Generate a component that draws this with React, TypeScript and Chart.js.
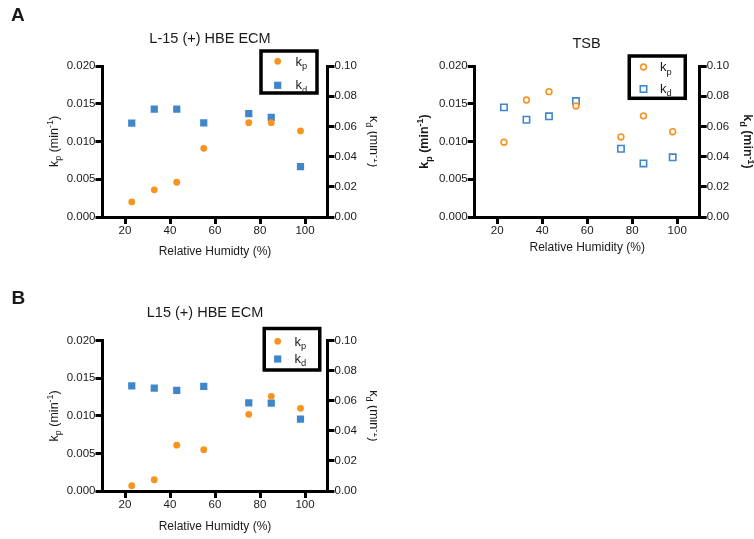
import React, { useEffect, useRef } from "react";
import { Chart, registerables } from "chart.js";

Chart.register(...registerables);

// ---------- data ----------
const humidity = [23, 33, 43, 55, 75, 85, 98];

const ecmKp = [0.002, 0.0036, 0.0046, 0.0091, 0.0125, 0.0125, 0.0114];
const ecmKd = [0.0621, 0.0715, 0.0715, 0.0623, 0.0684, 0.066, 0.0333];

const tsbKp = [0.0099, 0.0155, 0.0166, 0.0147, 0.0106, 0.0134, 0.0113];
const tsbKd = [0.0726, 0.0644, 0.0667, 0.0768, 0.0452, 0.0355, 0.0395];

const l15Kp = [0.0007, 0.0015, 0.0061, 0.0055, 0.0102, 0.0126, 0.011];
const l15Kd = [0.07, 0.0684, 0.0669, 0.0696, 0.0587, 0.0584, 0.0478];

const xTicks = [20, 40, 60, 80, 100];
const kpTicks = [0, 0.005, 0.01, 0.015, 0.02];
const kpTickLabels = ["0.000", "0.005", "0.010", "0.015", "0.020"];
const kdTicks = [0, 0.02, 0.04, 0.06, 0.08, 0.1];
const kdTickLabels = ["0.00", "0.02", "0.04", "0.06", "0.08", "0.10"];

const seriesSymbols = ["k", "k"];
const seriesSubs = ["p", "d"];
const panelTitles = ["L-15 (+) HBE ECM", "TSB", "L15 (+) HBE ECM"];
const panelLetters = ["A", "", "B"];
const xAxisTitles = ["Relative Humidty (%)", "Relative Humidity (%)", "Relative Humidty (%)"];

// ---------- styles ----------
const ORANGE = "#F7941E";
const BLUE = "#3F87CA";
const FONT = "'Liberation Sans', Arial, Helvetica, sans-serif";
const TEXT = "#1a1a1a";

type Part = { t: string; s?: "sub" | "sup" };

type Legend = { x: number; y: number; w: number; h: number; mx: number; r1: number; r2: number; tx: number };

type PanelCfg = {
  idx: number;
  left: number;
  top: number;
  width: number;
  height: number;
  area: { l: number; r: number; t: number; b: number };
  titleX: number;
  titleBase: number;
  letterX: number;
  letterBase: number;
  xTitlePad: number;
  kp: number[];
  kd: number[];
  open: boolean;
  bold: boolean;
  leftLabelX: number;
  rightLabelX: number;
  legend: Legend;
};

const panels: PanelCfg[] = [
  {
    idx: 0,
    left: 0,
    top: 0,
    width: 377,
    height: 270,
    area: { l: 102.5, r: 327.5, t: 66, b: 217 },
    titleX: 210,
    titleBase: 42.5,
    letterX: 11,
    letterBase: 21,
    xTitlePad: 10.8,
    kp: ecmKp,
    kd: ecmKd,
    open: false,
    bold: false,
    leftLabelX: 57.5,
    rightLabelX: 369.5,
    legend: { x: 261, y: 51, w: 56, h: 42, mx: 277.7, r1: 61.3, r2: 85.3, tx: 295.5 },
  },
  {
    idx: 1,
    left: 377,
    top: 0,
    width: 377,
    height: 270,
    area: { l: 97.7, r: 322.7, t: 66, b: 217 },
    titleX: 209.5,
    titleBase: 48,
    letterX: 0,
    letterBase: 0,
    xTitlePad: 14.8,
    kp: tsbKp,
    kd: tsbKd,
    open: true,
    bold: true,
    leftLabelX: 51,
    rightLabelX: 366.7,
    legend: { x: 252.25, y: 56, w: 56, h: 42.3, mx: 266.5, r1: 67, r2: 89, tx: 283 },
  },
  {
    idx: 2,
    left: 0,
    top: 270,
    width: 377,
    height: 269,
    area: { l: 102.5, r: 327.5, t: 70.7, b: 221 },
    titleX: 205,
    titleBase: 46.5,
    letterX: 11.5,
    letterBase: 34,
    xTitlePad: 4.8,
    kp: l15Kp,
    kd: l15Kd,
    open: false,
    bold: false,
    leftLabelX: 57.5,
    rightLabelX: 369.5,
    legend: { x: 264.25, y: 58.5, w: 55.5, h: 41.5, mx: 277.7, r1: 71.3, r2: 89, tx: 294.5 },
  },
];

function drawRich(
  ctx: CanvasRenderingContext2D,
  parts: Part[],
  x: number,
  y: number,
  rot: number,
  size: number,
  bold: boolean,
  align: "center" | "left"
) {
  ctx.save();
  ctx.translate(x, y);
  ctx.rotate(rot);
  const w = bold ? "bold " : "";
  const big = `${w}${size}px ${FONT}`;
  const small = `${w}${size * 0.72}px ${FONT}`;
  let total = 0;
  const widths = parts.map((p) => {
    ctx.font = p.s ? small : big;
    const m = ctx.measureText(p.t).width;
    total += m;
    return m;
  });
  let cx = align === "center" ? -total / 2 : 0;
  ctx.textAlign = "left";
  ctx.textBaseline = "alphabetic";
  ctx.fillStyle = TEXT;
  parts.forEach((p, i) => {
    ctx.font = p.s ? small : big;
    const dy = p.s === "sub" ? size * 0.3 : p.s === "sup" ? -size * 0.38 : 0;
    ctx.fillText(p.t, cx, dy);
    cx += widths[i];
  });
  ctx.restore();
}

function makeAnnotations(cfg: PanelCfg) {
  return {
    id: "annotations" + cfg.idx,
    afterDraw(chart: Chart) {
      const ctx = chart.ctx;
      const area = chart.chartArea;
      ctx.save();
      // title
      ctx.fillStyle = TEXT;
      ctx.font = `14.5px ${FONT}`;
      ctx.textAlign = "center";
      ctx.textBaseline = "alphabetic";
      ctx.fillText(panelTitles[cfg.idx], cfg.titleX, cfg.titleBase);
      // letter
      const letter = panelLetters[cfg.idx];
      if (letter) {
        ctx.font = `bold 19px ${FONT}`;
        ctx.textAlign = "left";
        ctx.fillText(letter, cfg.letterX, cfg.letterBase);
      }
      const midY = (area.top + area.bottom) / 2;
      // y axis labels
      drawRich(
        ctx,
        [{ t: seriesSymbols[0] }, { t: seriesSubs[0], s: "sub" }, { t: " (min" }, { t: "-1", s: "sup" }, { t: ")" }],
        cfg.leftLabelX,
        midY,
        -Math.PI / 2,
        12.5,
        cfg.bold,
        "center"
      );
      drawRich(
        ctx,
        [{ t: seriesSymbols[1] }, { t: seriesSubs[1], s: "sub" }, { t: " (min" }, { t: "-1", s: "sup" }, { t: ")" }],
        cfg.rightLabelX,
        midY,
        Math.PI / 2,
        12.5,
        cfg.bold,
        "center"
      );
      // legend box
      const lg = cfg.legend;
      ctx.fillStyle = "#fff";
      ctx.fillRect(lg.x, lg.y, lg.w, lg.h);
      ctx.strokeStyle = "#000";
      ctx.lineWidth = 3.5;
      ctx.strokeRect(lg.x, lg.y, lg.w, lg.h);
      // markers
      if (cfg.open) {
        ctx.lineWidth = 1.6;
        ctx.strokeStyle = ORANGE;
        ctx.beginPath();
        ctx.arc(lg.mx, lg.r1, 2.9, 0, Math.PI * 2);
        ctx.stroke();
        ctx.strokeStyle = BLUE;
        ctx.strokeRect(lg.mx - 3.2, lg.r2 - 3.2, 6.4, 6.4);
      } else {
        ctx.fillStyle = ORANGE;
        ctx.beginPath();
        ctx.arc(lg.mx, lg.r1, 3.4, 0, Math.PI * 2);
        ctx.fill();
        ctx.fillStyle = BLUE;
        ctx.fillRect(lg.mx - 3.6, lg.r2 - 3.6, 7.2, 7.2);
      }
      drawRich(ctx, [{ t: seriesSymbols[0] }, { t: seriesSubs[0], s: "sub" }], lg.tx, lg.r1 + 4.2, 0, 13, false, "left");
      drawRich(ctx, [{ t: seriesSymbols[1] }, { t: seriesSubs[1], s: "sub" }], lg.tx, lg.r2 + 3.5, 0, 13, false, "left");
      ctx.restore();
    },
  };
}

function Panel({ cfg }: { cfg: PanelCfg }) {
  const ref = useRef<HTMLCanvasElement | null>(null);
  useEffect(() => {
    if (!ref.current) return;
    const axisGrid = {
      display: true,
      drawOnChartArea: false,
      drawTicks: true,
      tickLength: 7,
      tickWidth: 3,
      lineWidth: 3,
      color: "#000",
    };
    const axisBorder = { display: true, color: "#000", width: 3 };
    const tickFont = { family: FONT, size: 11.5 };
    const kpData = humidity.map((h, i) => ({ x: h, y: cfg.kp[i] }));
    const kdData = humidity.map((h, i) => ({ x: h, y: cfg.kd[i] }));
    const chart = new Chart(ref.current, {
      type: "scatter",
      data: {
        datasets: [
          {
            label: "kp",
            data: kpData,
            yAxisID: "y",
            pointStyle: "circle",
            pointRadius: cfg.open ? 2.9 : 3.4,
            pointBorderWidth: cfg.open ? 1.6 : 0,
            pointBackgroundColor: cfg.open ? "#fff" : ORANGE,
            pointBorderColor: ORANGE,
          },
          {
            label: "kd",
            data: kdData,
            yAxisID: "y1",
            pointStyle: "rect",
            pointRadius: cfg.open ? 4.5 : 5.1,
            pointBorderWidth: cfg.open ? 1.6 : 0,
            pointBackgroundColor: cfg.open ? "#fff" : BLUE,
            pointBorderColor: BLUE,
          },
        ],
      },
      options: {
        animation: false,
        responsive: false,
        maintainAspectRatio: false,
        layout: { padding: { left: 0, right: 0, top: cfg.area.t, bottom: 0 } },
        plugins: { legend: { display: false }, tooltip: { enabled: false }, title: { display: false } },
        scales: {
          x: {
            type: "linear",
            position: "bottom",
            min: 10,
            max: 110,
            grid: axisGrid,
            border: axisBorder,
            afterBuildTicks: (s: any) => {
              s.ticks = xTicks.map((v) => ({ value: v }));
            },
            afterFit: (s: any) => {
              s.height = cfg.height - cfg.area.b;
            },
            ticks: {
              font: tickFont,
              color: TEXT,
              padding: 0,
              maxRotation: 0,
              autoSkip: false,
              callback: (v: any) => String(v),
            },
            title: {
              display: true,
              text: xAxisTitles[cfg.idx],
              font: { family: FONT, size: 12 },
              color: TEXT,
              padding: { top: 0, bottom: cfg.xTitlePad },
            },
          },
          y: {
            type: "linear",
            position: "left",
            min: 0,
            max: 0.02,
            grid: axisGrid,
            border: axisBorder,
            afterBuildTicks: (s: any) => {
              s.ticks = kpTicks.map((v) => ({ value: v }));
            },
            afterFit: (s: any) => {
              s.width = cfg.area.l;
            },
            ticks: {
              font: tickFont,
              color: TEXT,
              padding: 0,
              autoSkip: false,
              callback: (v: any) => kpTickLabels[kpTicks.indexOf(v)] ?? "",
            },
          },
          y1: {
            type: "linear",
            position: "right",
            min: 0,
            max: 0.1,
            grid: axisGrid,
            border: axisBorder,
            afterBuildTicks: (s: any) => {
              s.ticks = kdTicks.map((v) => ({ value: v }));
            },
            afterFit: (s: any) => {
              s.width = cfg.width - cfg.area.r;
            },
            ticks: {
              font: tickFont,
              color: TEXT,
              padding: 0,
              autoSkip: false,
              callback: (v: any) => kdTickLabels[kdTicks.indexOf(v)] ?? "",
            },
          },
        },
      } as any,
      plugins: [makeAnnotations(cfg)],
    });
    return () => chart.destroy();
  }, [cfg]);
  return (
    <canvas
      ref={ref}
      width={cfg.width}
      height={cfg.height}
      style={{ position: "absolute", left: cfg.left, top: cfg.top, width: cfg.width, height: cfg.height }}
    />
  );
}

export default function App() {
  return (
    <div
      style={{
        position: "fixed",
        left: 0,
        top: 0,
        width: 754,
        height: 539,
        background: "#fff",
        overflow: "hidden",
      }}
    >
      {panels.map((p) => (
        <Panel key={p.idx} cfg={p} />
      ))}
    </div>
  );
}
